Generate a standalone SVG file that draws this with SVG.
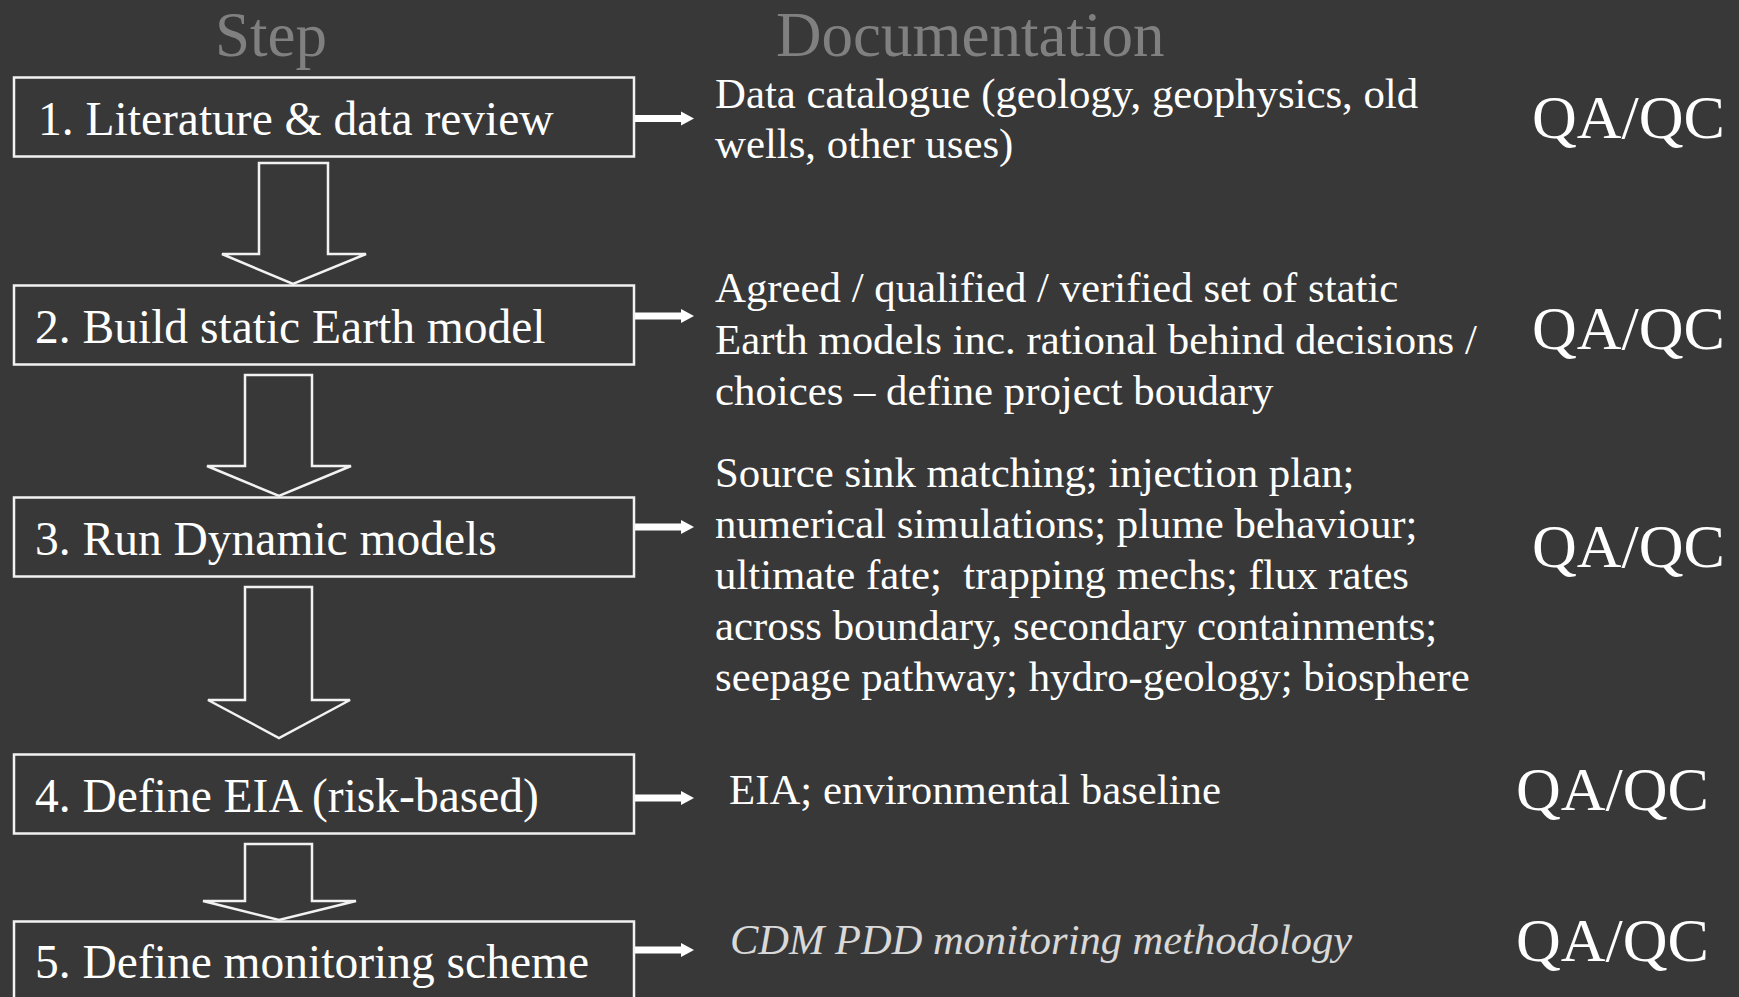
<svg xmlns="http://www.w3.org/2000/svg" width="1739" height="997" viewBox="0 0 1739 997">
  <defs>
    <style>
      .bg { fill: #383838; }
      .hdr { font-family: "Liberation Serif", "Times New Roman", serif; font-size: 63px; fill: #808080; }
      .box { fill: none; stroke: #f2f2f2; stroke-width: 2.5; }
      .lbl { font-family: "Liberation Serif", "Times New Roman", serif; font-size: 47.5px; fill: #ffffff; }
      .doc { font-family: "Liberation Serif", "Times New Roman", serif; font-size: 42.8px; fill: #ffffff; }
      .doc-it { font-family: "Liberation Serif", "Times New Roman", serif; font-size: 42.5px; font-style: italic; fill: #d9d9d9; }
      .qa { font-family: "Liberation Serif", "Times New Roman", serif; font-size: 62px; fill: #ffffff; }
      .flow { fill: none; stroke: #f2f2f2; stroke-width: 2.5; stroke-linejoin: miter; }
      .link { fill: #ffffff; }
    </style>
    <!-- small solid arrow pointing right, origin at the box edge -->
    <g id="pointer">
      <rect x="0" y="-3.5" width="47" height="7" class="link"/>
      <polygon points="46,-7 59,0 46,7" class="link"/>
    </g>
  </defs>

  <rect class="bg" x="0" y="0" width="1739" height="997"/>

  <!-- column headings -->
  <g id="headings">
    <text class="hdr" x="215" y="56">Step</text>
    <text class="hdr" x="776" y="56">Documentation</text>
  </g>

  <!-- process steps -->
  <g id="step1">
    <rect class="box" x="14" y="77.5" width="620" height="79"/>
    <text class="lbl" x="38" y="135">1. Literature &amp; data review</text>
  </g>
  <g id="step2">
    <rect class="box" x="14" y="285.5" width="620" height="79"/>
    <text class="lbl" x="35" y="343">2. Build static Earth model</text>
  </g>
  <g id="step3">
    <rect class="box" x="14" y="497.5" width="620" height="79"/>
    <text class="lbl" x="35" y="555">3. Run Dynamic models</text>
  </g>
  <g id="step4">
    <rect class="box" x="14" y="754.5" width="620" height="79"/>
    <text class="lbl" x="35" y="812">4. Define EIA (risk-based)</text>
  </g>
  <g id="step5">
    <rect class="box" x="14" y="921.5" width="620" height="100"/>
    <text class="lbl" x="35" y="978">5. Define monitoring scheme</text>
  </g>

  <!-- documentation outputs -->
  <g id="doc1">
    <text class="doc" x="715" y="108">Data catalogue (geology, geophysics, old</text>
    <text class="doc" x="715" y="158">wells, other uses)</text>
  </g>
  <g id="doc2">
    <text class="doc" x="715" y="302">Agreed / qualified / verified set of static</text>
    <text class="doc" x="715" y="354">Earth models inc. rational behind decisions /</text>
    <text class="doc" x="715" y="405">choices – define project boudary</text>
  </g>
  <g id="doc3">
    <text class="doc" x="715" y="487">Source sink matching; injection plan;</text>
    <text class="doc" x="715" y="538">numerical simulations; plume behaviour;</text>
    <text class="doc" x="715" y="589" xml:space="preserve">ultimate fate;  trapping mechs; flux rates</text>
    <text class="doc" x="715" y="640">across boundary, secondary containments;</text>
    <text class="doc" x="715" y="691">seepage pathway; hydro-geology; biosphere</text>
  </g>
  <g id="doc4">
    <text class="doc" x="729" y="804">EIA; environmental baseline</text>
  </g>
  <g id="doc5">
    <text class="doc-it" x="730" y="954">CDM PDD monitoring methodology</text>
  </g>

  <!-- quality checks -->
  <g id="qa1"><text class="qa" x="1532" y="138">QA/QC</text></g>
  <g id="qa2"><text class="qa" x="1532" y="349">QA/QC</text></g>
  <g id="qa3"><text class="qa" x="1532" y="567">QA/QC</text></g>
  <g id="qa4"><text class="qa" x="1516" y="810">QA/QC</text></g>
  <g id="qa5"><text class="qa" x="1516" y="961">QA/QC</text></g>

  <!-- connectors -->
  <g id="connectors">
    <!-- hollow block arrows between steps -->
    <polygon class="flow" points="259,163 328,163 328,254 366,254 293,284 222,254 259,254"/>
    <polygon class="flow" points="245,375 312,375 312,466 351,466 279,496 207,466 245,466"/>
    <polygon class="flow" points="245,587 312,587 312,700 350,700 279,738 208,700 245,700"/>
    <polygon class="flow" points="245,844 312,844 312,901 356,901 279,920 203,901 245,901"/>
    <!-- step to documentation pointers -->
    <use href="#pointer" x="635" y="118.5"/>
    <use href="#pointer" x="635" y="316"/>
    <use href="#pointer" x="635" y="527"/>
    <use href="#pointer" x="635" y="798"/>
    <use href="#pointer" x="635" y="950"/>
  </g>
</svg>
